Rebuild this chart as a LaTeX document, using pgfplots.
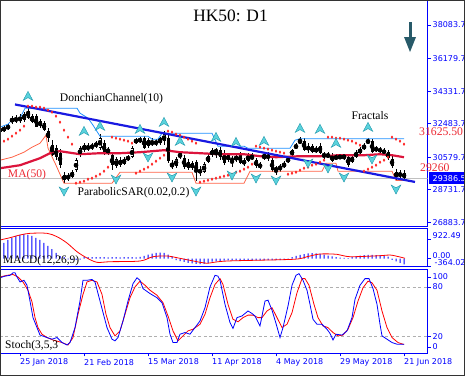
\documentclass[border=0pt]{standalone}
\usepackage{pgfplots}
\pgfplotsset{compat=1.18}
\usepackage{pgfplotstable}
\usepackage{fontspec}
\setmainfont{Liberation Serif}
\newfontfamily\lab{DejaVu Sans}

\definecolor{axblue}{RGB}{0,0,255}
\definecolor{trend}{RGB}{25,25,225}
\definecolor{mared}{RGB}{220,20,60}
\definecolor{dcup}{RGB}{30,144,255}
\definecolor{dclow}{RGB}{255,99,71}
\definecolor{frac}{RGB}{90,210,220}
\definecolor{fracd}{RGB}{30,150,170}
\definecolor{arrowc}{RGB}{40,90,105}
\definecolor{pgray}{RGB}{192,192,192}
\definecolor{lvlgray}{RGB}{175,175,175}
\definecolor{lblred}{RGB}{235,40,50}

\pgfdeclareplotmark{fracup}{%
  \pgfpathmoveto{\pgfqpoint{0pt}{4.8pt}}%
  \pgfpathlineto{\pgfqpoint{4.8pt}{-4.2pt}}%
  \pgfpathlineto{\pgfqpoint{0pt}{-1.5pt}}%
  \pgfpathlineto{\pgfqpoint{-4.8pt}{-4.2pt}}%
  \pgfpathclose
  \pgfusepathqfillstroke}
\pgfdeclareplotmark{fracdn}{%
  \pgfpathmoveto{\pgfqpoint{0pt}{-4.8pt}}%
  \pgfpathlineto{\pgfqpoint{4.8pt}{4.2pt}}%
  \pgfpathlineto{\pgfqpoint{0pt}{1.5pt}}%
  \pgfpathlineto{\pgfqpoint{-4.8pt}{4.2pt}}%
  \pgfpathclose
  \pgfusepathqfillstroke}

\pgfplotstableread{
k o h l c
-5 32057 32284 31943 32170
-4 32114 32341 32000 32227
-3 32227 32455 32114 32341
-2 32568 32910 32455 32796
-1 32625 32967 32512 32796
0 32853 33023 32512 32625
1 32682 33137 32568 33023
2 33194 33421 32739 32796
3 32568 33023 32512 32910
4 32910 33023 32284 32284
5 32341 32739 32227 32625
6 32512 32625 32057 32114
7 32057 32227 31431 31659
8 31261 31545 30636 30692
9 31090 31261 30408 30579
10 30806 31033 29953 30124
11 29555 29726 29101 29271
12 29328 29669 29214 29555
13 29442 29840 29385 29726
14 29840 30522 29726 30408
15 30692 31204 30579 31090
16 30977 31374 30863 31261
17 31090 31374 30920 31147
18 31147 31374 30977 31204
19 31204 31488 31090 31374
20 31090 31886 30977 31659
21 31374 31545 30692 30863
22 30920 31147 30692 30977
23 30692 30863 29840 30124
24 30067 30579 29953 30465
25 30408 30579 30010 30124
26 30181 30579 30124 30465
27 30465 30692 30351 30579
28 30579 31204 30522 31090
29 31431 31659 31318 31545
30 31488 31715 31374 31602
31 31659 31772 31033 31090
32 31204 31659 31090 31545
33 31431 31659 31204 31318
34 31318 31602 31204 31488
35 31374 31715 31261 31659
36 31488 32057 31261 31886
37 31659 31829 30238 30351
38 30010 30408 29897 30238
39 30067 30579 29953 30465
40 30579 30863 30465 30806
41 30522 30692 29897 30010
42 30294 30465 29840 29953
43 29953 30351 29840 30238
44 30294 30408 29214 29726
45 29726 30067 29499 29840
46 29726 30294 29669 30181
47 30294 30749 30238 30636
48 30692 31090 30579 30977
49 30863 31090 30522 30977
50 30977 31147 30408 30579
51 30806 30977 30124 30238
52 30408 30806 30294 30692
53 30465 30636 30010 30408
54 30408 30749 30294 30636
55 30749 30863 30181 30238
56 30181 30522 30067 30408
57 30351 30806 30294 30692
58 30579 30806 30408 30522
59 30408 30522 29953 30067
60 30067 30294 29897 30124
61 30465 30863 30408 30749
62 30692 30863 30351 30522
63 30408 30522 29726 29840
64 29840 30067 29555 29953
65 29953 30181 29726 30010
66 30010 30351 29953 30238
67 30294 30579 30238 30522
68 30692 31033 30636 30977
69 31090 31374 31033 31261
70 31374 31715 31318 31545
71 31488 31659 30920 30977
72 31204 31374 30806 30977
73 31204 31318 30806 30863
74 30863 31204 30806 31090
75 31204 31374 30749 30806
76 30636 30863 30465 30749
77 30579 30863 30522 30749
78 30692 30806 30294 30351
79 30465 30749 30408 30636
80 30522 30749 30465 30636
81 30522 30749 30408 30692
82 30579 30692 30010 30124
83 30294 30692 30238 30579
84 30579 30977 30522 30863
85 30806 31147 30749 31033
86 31033 31374 30977 31261
87 31374 31659 31318 31545
88 31488 31602 30806 30863
89 30977 31204 30863 31090
90 31033 31147 30806 30920
91 30977 31090 30692 30806
92 30863 30977 30408 30522
93 30465 30636 29953 30067
94 29726 29897 29271 29442
95 29499 29840 29385 29669
96 29669 29840 29271 29386.5
}\candles

\pgfplotstableread{
k v
-5 31374
-4 31488
-3 31602
-2 31772
-1 31943
0 32114
1 32341
2 33478
3 33478
4 33421
5 33421
6 33364
7 33251
8 33137
9 32910
10 32568
11 32114
12 31715
13 31318
14 29101
15 29158
16 29214
17 29328
18 29385
19 29499
20 29612
21 29783
22 30010
23 31715
24 31659
25 31602
26 31545
27 31488
28 31374
29 29669
30 29783
31 29897
32 30010
33 30181
34 30351
35 30522
36 30692
37 32057
38 32000
39 31886
40 31829
41 31715
42 31602
43 31488
44 31374
45 29158
46 29214
47 29271
48 29328
49 29385
50 29442
51 29499
52 29555
53 29612
54 29726
55 29783
56 29897
57 30010
58 30181
59 31204
60 31147
61 31090
62 31033
63 30977
64 30920
65 30863
66 30806
67 29612
68 29669
69 29726
70 29840
71 29953
72 30010
73 30124
74 30181
75 30294
76 30408
77 31715
78 31715
79 31659
80 31659
81 31602
82 31545
83 31488
84 31374
85 31261
86 29783
87 29897
88 30010
89 30124
90 30294
91 30408
92 30579
93 31715
94 31602
95 31488
96 31318
}\sar

\pgfplotstableread{
k v
-5 32284
-3 32455
-2 32682
0 32796
1.25 33364
14.25 33364
15 33080
17 32796
18.25 32398
20 31772
32 31772
33 31602
34.5 31602
35.5 31943
48 31943
49.5 31204
56 31204
57 31090
67.5 31090
68.75 31545
70 31625.5
96 31625.5
}\dcupper

\pgfplotstableread{
k v
-5 30408
-2 30579
1 30863
3 31147
5 31374
6.5 31829
7 31090
9 30124
11 29101
23 29101
25 29726
43 29726
44 29101
56 29101
57.5 29783
75.5 29783
76.5 30238
79 30238
79.5 29783
93 29783
94 29260
96 29260
}\dclower

\pgfplotstableread{
k v
-5 29953
0 30124
5 30522
8 30863
10 30920
15 30749
20 30806
25 30806
30 30863
36 30977
40 30863
45 30806
50 30749
56 30749
60 30636
64 30579
70 30636
75 30636
80 30692
86 30692
90 30749
93 30692
96 30579
}\mafifty

\pgfplotstableread{
k v
2 34046
16 32057
20 32341
30 32170
36 32568
40 31488
49 31715
54 31431
61 31488
70 32227
75 32170
79 31374
87 32284
}\fracuptab

\pgfplotstableread{
k v
11 28646
24 29328
32 30579
38 29442
44 28646
53 29555
59 29385
64 29271
72 30238
77 29953
81 29442
88 30465
94 28760
}\fracdntab

\pgfplotstableread{
k v
-5 635
-4 730
-3 870
-2 965
-1 1058
0 1105
1 1150
2 1105
3 1058
4 965
5 870
6 730
7 590
8 445
9 260
10 118
11 70
12 -40
13 -60
14 -60
15 -50
16 60
17 70
18 70
19 60
20 70
21 60
22 50
23 60
24 60
25 50
26 60
27 70
28 60
29 50
30 80
31 120
32 180
33 230
34 260
35 280
36 260
37 180
38 100
39 -80
40 -120
41 -160
42 -200
43 -230
44 -250
45 -260
46 -250
47 -200
48 -150
49 -130
50 -110
51 -100
52 -90
53 -90
54 -90
55 -90
56 -90
57 -90
58 -90
59 -90
60 -90
61 -80
62 -80
63 -80
64 -80
65 -70
66 -60
67 -40
68 60
69 120
70 170
71 210
72 240
73 250
74 240
75 220
76 180
77 140
78 100
79 60
80 40
81 30
82 20
83 70
84 110
85 140
86 160
87 170
88 170
89 160
90 160
91 140
92 90
93 -60
94 -130
95 -200
96 -270
}\macdh

\pgfplotstableread{
k v
-5 870
-2.5 978
0 1105
2.5 1184
6.75 1184
9.25 1025
11.75 729
14.25 320
16.75 24
19.25 -179
22.5 -150
30 -118
33.25 85
36.75 118
40 9
45 -179
46.75 -226
51.75 -118
68.25 -38
71.75 85
75 212
79.25 197
82.5 85
90 132
92.5 165
95 71
96.25 9
}\macds

\pgfplotstableread{
k v
-5 91
-3.75 93
-2.5 94
-1.75 97
-1.25 97
-0.75 92
0 86
1 88
1.75 82
2.5 63
3.25 43
4.25 31
5 22
6.75 19
8 17
9.25 19
10.5 13
11.75 10
12.5 13
13.75 31
15 63
15.75 88
16.75 88
18 89
18.75 86
20 63
21.75 31
23 17
23.75 15
24.5 19
25.75 39
27 63
28.25 84
29.25 91
30 88
30.75 78
32.5 72
34.25 67
35.5 61
36.75 43
37.5 23
38.25 13
39.25 13
40 23
41.25 25
42.5 23
43.75 31
45 39
46.25 55
47.5 80
48.75 94
49.5 93
50 88
51.25 59
52.5 37
53.25 30
54.25 43
55.5 45
56.25 48
57 51
58 48
58.75 45
60 33
61.25 63
62 64
63 52
64 36
65 19
65.75 31
67 57
68 82
69 94
69.75 96
70.75 88
71.75 76
72.5 59
73.25 41
74.25 35
75.5 35
76.75 29
77.5 24
78.25 16
79 23
80.5 22
81.75 27
83 43
83.75 65
85 82
86.25 90
87.25 90
88.25 78
89.25 59
90 35
90.5 21
91.75 17
93 13
94.25 11
95.5 11
96 11
}\stk

\pgfplotstableread{
k v
-5 92
-3.25 94
-1.75 95
-0.5 92
0.75 86
2 76
3 62
3.75 43
4.5 31
5.5 23
6.75 19
8.25 16
10.5 13
12 10
13.25 19
14.5 47
15.75 71
16.75 86
18 88
19.25 86
20.5 71
21.5 47
22.5 31
23.75 21
25 27
26.25 47
27.5 67
28.75 80
30 87
31.25 82
32.5 76
34.25 70
35.75 61
37 45
38.25 27
39.5 15
40.75 21
42 27
43.25 29
45 35
46.25 47
47.5 67
48.75 83
50 90
50.75 83
52 59
53.25 41
54.5 38
55.75 43
57 46
58.25 46
59.5 43
60.5 43
61.75 51
63 55
64.25 43
65.5 31
66.75 35
68 49
69.25 73
70.5 90
71.25 90
72.25 82
73.5 59
74.5 43
75.75 33
77 31
78.25 25
79.5 21
80.75 22
82 29
83.25 43
84.5 63
85.75 79
87 87
88 85
89.25 76
90.5 51
91.75 31
93 19
94.5 13
95.75 11
96 11
}\std

\pgfplotsset{
  panel/.style={
    scale only axis, width=427.5pt,
    xmin=-5, xmax=101.875,
    axis line style={axblue, line width=0.8pt},
    tick style={axblue, line width=0.6pt},
    tick align=outside, major tick length=3pt,
    ytick pos=right, yticklabel pos=right,
    yticklabel style={font=\lab\fontsize{8}{9}\selectfont, text=axblue, anchor=west, inner sep=0pt, xshift=2pt},
  },
  wick/.style={only marks, mark=none, forget plot,
    error bars/y dir=both, error bars/y explicit, error bars/error mark=none},
}

\begin{document}
\begin{tikzpicture}
\path[use as bounding box] (0,0) rectangle (465pt,376pt);

% ---------- main price panel ----------
\begin{axis}[panel, at={(0pt,149.7pt)}, anchor=south west, height=226.3pt,
  ymin=26656, ymax=39504, xtick=\empty,
  ytick={26883.7,28731.7,30579.7,32483.7,34331.7,36179.7,38083.7},
  yticklabels={26883.7,28731.7,30579.7,32483.7,34331.7,36179.7,38083.7}]
\addplot[pgray, line width=0.8pt, forget plot] coordinates {(-5,29386.5) (101.875,29386.5)};
% wicks
\addplot[wick, error bars/error bar style={draw=black, line width=0.7pt}]
  table[x=k, y expr={(\thisrow{h}+\thisrow{l})/2}, y error expr={(\thisrow{h}-\thisrow{l})/2}] {\candles};
% bodies
\addplot[wick, error bars/error bar style={draw=black, line width=3pt}]
  table[x=k, y expr={(\thisrow{o}+\thisrow{c})/2}, y error expr={max(abs(\thisrow{c}-\thisrow{o})/2,25)}] {\candles};
\addplot[wick, restrict expr to domain={\thisrow{c}-\thisrow{o}}{1:100000}, error bars/error bar style={draw=white, line width=1.5pt}]
  table[x=k, y expr={(\thisrow{o}+\thisrow{c})/2}, y error expr={max(abs(\thisrow{c}-\thisrow{o})/2-45,0)}] {\candles};
% Donchian
\addplot[dcup, line width=0.8pt, mark=none] table[x=k,y=v] {\dcupper};
\addplot[dclow, line width=0.8pt, mark=none] table[x=k,y=v] {\dclower};
% MA 50
\addplot[mared, line width=2.2pt, mark=none] table[x=k,y=v] {\mafifty};
% Parabolic SAR
\addplot[only marks, mark=diamond*, mark size=1.2pt, mark options={draw=red, fill=white, line width=0.5pt}] table[x=k,y=v] {\sar};
% Fractals
\addplot[only marks, mark=fracup, mark options={fill=frac, draw=fracd, line width=0.4pt}] table[x=k,y=v] {\fracuptab};
\addplot[only marks, mark=fracdn, mark options={fill=frac, draw=fracd, line width=0.4pt}] table[x=k,y=v] {\fracdntab};
% trend line
\addplot[trend, line width=2.2pt, mark=none] coordinates {(-1.25,33574) (98.75,29174)};
\end{axis}

% ---------- MACD panel ----------
\begin{axis}[panel, at={(0pt,109.3pt)}, anchor=south west, height=37.9pt,
  ymin=-385, ymax=1396, xtick=\empty,
  ytick={0,922.49}, yticklabels={0.00,922.49},
  extra y ticks={-364.02}, extra y tick labels={-364.02},
  extra y tick style={yticklabel style={fill=white, inner sep=0.6pt, xshift=1.4pt}},
  yticklabel style={yshift=3.3pt}]
\addplot[ybar, bar width=1pt, fill=axblue, draw=none] table[x=k,y=v] {\macdh};
\addplot[red, line width=0.8pt, mark=none, smooth] table[x=k,y=v] {\macds};
\end{axis}

% ---------- Stochastic panel ----------
\begin{axis}[panel, at={(0pt,22.7pt)}, anchor=south west, height=84.3pt,
  ymin=0, ymax=101.6,
  ytick={7.6,20,80,91.9}, yticklabels={0,20,80,100},
  xtick={0,16,32,48,64,80,96}, xtick pos=bottom,
  xticklabels={25 Jan 2018,21 Feb 2018,15 Mar 2018,11 Apr 2018,4 May 2018,29 May 2018,21 Jun 2018},
  xticklabel style={anchor=north west, font=\lab\fontsize{8}{9}\selectfont, text=axblue, inner sep=0pt, yshift=-2.5pt}]
\addplot[lvlgray, line width=0.7pt, dash pattern=on 3pt off 2.5pt, forget plot] coordinates {(-5,80) (101.875,80)};
\addplot[lvlgray, line width=0.7pt, dash pattern=on 3pt off 2.5pt, forget plot] coordinates {(-5,20) (101.875,20)};
\addplot[red, line width=0.8pt, mark=none] table[x=k,y=v] {\std};
\addplot[axblue, line width=0.8pt, mark=none] table[x=k,y=v] {\stk};
\end{axis}

% ---------- texts ----------
\node[font=\fontsize{17.4}{20}\selectfont] at (230.5pt,360pt) {HK50: D1};
\node[font=\fontsize{11.6}{13}\selectfont] at (111.5pt,277pt) {DonchianChannel(10)};
\node[font=\fontsize{11.6}{13}\selectfont] at (370pt,260pt) {Fractals};
\node[font=\fontsize{11.6}{13}\selectfont, text=lblred] at (27pt,201pt) {MA(50)};
\node[font=\fontsize{11.6}{13}\selectfont] at (133.5pt,183pt) {ParabolicSAR(0.02,0.2)};
\node[font=\fontsize{11.7}{13}\selectfont, text=lblred, anchor=west, inner sep=0pt] at (419pt,244.5pt) {31625.50};
\node[font=\fontsize{11.7}{13}\selectfont, text=lblred, anchor=west, inner sep=0pt] at (420pt,208pt) {29260};
\node[font=\fontsize{11.4}{13}\selectfont, anchor=west, inner sep=0pt] at (3pt,115pt) {MACD(12,26,9)};
\node[font=\fontsize{11.5}{13}\selectfont, anchor=west, inner sep=0pt] at (5pt,30.5pt) {Stoch(3,5,3};
\node[fill=axblue, text=white, anchor=west, inner sep=0pt, minimum height=12pt, minimum width=40pt, text width=36pt, font=\lab\fontsize{8}{9}\selectfont] at (428.5pt,197.8pt) {\hspace*{2pt}29386.5};
% down arrow
\fill[arrowc] (408.5pt,354pt) rectangle (411.5pt,337pt);
\fill[arrowc] (404pt,339pt) -- (416pt,339pt) -- (410pt,324pt) -- cycle;
% frame
\draw[black!80, line width=0.8pt] (0.4pt,0.4pt) rectangle (464.6pt,375.6pt);
\end{tikzpicture}
\end{document}
